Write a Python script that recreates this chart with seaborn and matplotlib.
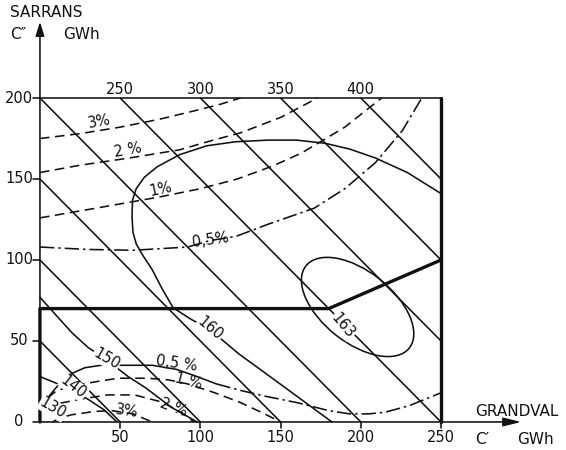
import matplotlib
matplotlib.use("Agg")
import matplotlib.pyplot as plt
from matplotlib.patches import Ellipse
import seaborn as sns

# ---------------------------------------------------------------------------
# Data (GWh): C' = Grandval storage, C'' = Sarrans storage
# ---------------------------------------------------------------------------
x_ticks = [50, 100, 150, 200, 250]
y_ticks = [0, 50, 100, 150, 200]

# straight iso-lines of total storage C' + C''
total_capacity = [50, 100, 150, 200, 250, 300, 350, 400]
total_labels = [250, 300, 350, 400]

# mean production contours
prod_130_x = [0, 7, 14]
prod_130_y = [11.5, 6.5, 0]
prod_140_x = [0, 10, 20, 30, 40, 48]
prod_140_y = [28, 24, 19.5, 14, 7.5, 0]
prod_150_x = [0, 10, 20, 30, 42, 55, 66, 82, 98]
prod_150_y = [77, 66, 55, 46, 38, 28, 21, 9, 0]
prod_160_x = [250, 229, 209, 193, 178, 160, 142, 122, 104, 87, 73, 65, 60, 57.7,
              57.4, 58, 60, 64, 70, 76, 83, 94, 106, 124, 140, 160, 182]
prod_160_y = [141, 154, 163, 168.5, 172, 174, 174, 173, 170.5, 165, 157.5, 151, 144, 137,
              126.5, 117, 110, 103, 94, 82.5, 70.5, 63.5, 57, 42, 30.5, 16, 0]
# 163 GWh optimum: centre, full width / height, tilt (deg)
prod_163_center = (198, 71)
prod_163_size = (82, 44)
prod_163_angle = -38

# failure-risk curves, upper family
risk3_up_x = [0, 25, 50, 75, 98, 112, 125]
risk3_up_y = [175, 178, 182, 187, 192.5, 196, 200]
risk2_up_x = [0, 25, 56, 87, 108, 125, 150, 173]
risk2_up_y = [154, 158.5, 163, 168, 174, 178.5, 188, 200]
risk1_up_x = [0, 35, 75, 100, 123, 145, 163, 190, 213]
risk1_up_y = [126, 132, 139, 144, 150, 158, 166, 182, 200]
risk05_up_x = [0, 30, 58, 92, 106, 122, 142, 171, 190, 209, 226, 238]
risk05_up_y = [108, 106.5, 106, 108, 112, 114.5, 122, 132, 144, 160, 180, 200]

# failure-risk curves, lower family (0.5 % drawn solid on its left part)
risk05_lo_solid_x = [1, 5, 9, 14, 20, 28, 38, 50, 70, 85, 98, 110]
risk05_lo_solid_y = [9, 15, 20, 25.5, 30, 33.5, 35, 35, 35, 32.5, 28, 23.5]
risk05_lo_dash_x = [110, 125, 140, 160, 180, 193, 205, 215, 230, 250]
risk05_lo_dash_y = [23.5, 19.5, 16, 12, 7, 5, 5, 6, 10, 18]
risk1_lo_x = [5, 10, 17.5, 34, 48.6, 67, 80, 92, 109, 125, 140, 150]
risk1_lo_y = [15, 19, 21.6, 24.7, 27, 27, 26, 23.5, 18, 12, 5, 0]
risk2_lo_x = [4, 12, 28, 42, 59, 76, 88, 96]
risk2_lo_y = [8, 11.5, 14.5, 16.7, 16.7, 12.3, 6, 0]
risk3_lo_x = [8, 12, 20, 34, 45, 58, 70]
risk3_lo_y = [0, 2.5, 4.5, 6.5, 7, 5, 0]

# admissible region boundary (thick)
bound_x = [0, 0, 180, 250]
bound_y = [0, 70, 70, 100]

# ---------------------------------------------------------------------------
sns.set_theme(style="white")
plt.rcParams["font.family"] = ["DejaVu Sans"]

fig = plt.figure(figsize=(5.66, 4.5), dpi=100)
ax = fig.add_axes([0, 0, 1, 1])
ax.set_xlim(-24.9, 327.9)
ax.set_ylim(-17.3, 260.5)
ax.set_axis_off()

INK = "#111111"
THIN = 1.15
THICK = 2.4
DASH = (0, (6, 3.5))
DASHDOT = (0, (9, 2.5, 1.5, 2.5))


def curve(xs, ys, lw=THIN, ls="-"):
    sns.lineplot(x=xs, y=ys, sort=False, estimator=None, color=INK,
                 lw=lw, linestyle=ls, ax=ax, legend=False)


# axes with arrows
ax.annotate("", xy=(0, 247), xytext=(0, 0),
            arrowprops=dict(arrowstyle="-|>,head_length=0.7,head_width=0.22",
                            color=INK, lw=THIN, shrinkA=0, shrinkB=0))
ax.annotate("", xy=(300, 0), xytext=(0, 0),
            arrowprops=dict(arrowstyle="-|>,head_length=0.9,head_width=0.22",
                            color=INK, lw=THIN, shrinkA=0, shrinkB=0))
for t in y_ticks:
    curve([-4.5, 0], [t, t])
for t in x_ticks:
    curve([t, t], [0, -3.5])

# frame: top line and thick right border
curve([0, 250], [200, 200])
curve([250, 250], [0, 200], lw=THICK)
curve(bound_x, bound_y, lw=THICK)

# iso-lines of total storage, clipped to the 250 x 200 frame
for c in total_capacity:
    x0 = max(0, c - 200)
    x1 = min(250, c)
    curve([x0, x1], [c - x0, c - x1])

# production contours
curve(prod_130_x, prod_130_y)
curve(prod_140_x, prod_140_y)
curve(prod_150_x, prod_150_y)
curve(prod_160_x, prod_160_y)
ax.add_patch(Ellipse(prod_163_center, prod_163_size[0], prod_163_size[1],
                     angle=prod_163_angle, fill=False, ec=INK, lw=THIN))

# risk curves
curve(risk3_up_x, risk3_up_y, ls=DASH)
curve(risk2_up_x, risk2_up_y, ls=DASH)
curve(risk1_up_x, risk1_up_y, ls=DASH)
curve(risk05_up_x, risk05_up_y, ls=DASHDOT)
curve(risk05_lo_solid_x, risk05_lo_solid_y)
curve(risk05_lo_dash_x, risk05_lo_dash_y, ls=DASHDOT)
curve(risk1_lo_x, risk1_lo_y, ls=DASH)
curve(risk2_lo_x, risk2_lo_y, ls=DASH)
curve(risk3_lo_x, risk3_lo_y, ls=DASH)

# ---------------------------------------------------------------------------
# text
FS = 10.5
txt = dict(color=INK, fontsize=FS, ha="center", va="center", rotation_mode="anchor")

for t in y_ticks:
    ax.text(-13, t, str(t), **txt)
for t in x_ticks:
    ax.text(t, -9.5, str(t), **txt)
for c in total_labels:
    ax.text(c - 200, 205.5, str(c), **txt)

pct = [("3%", 37, 185.5, 10), ("2 %", 55, 167.5, 10), ("1%", 75.5, 144, 12),
       ("0,5%", 106.5, 112.5, 8), ("0,5 %", 85, 36, -8), ("1 %", 92.5, 25, -15),
       ("2 %", 83.5, 9, -20), ("3%", 54, 6.5, -8)]
for s, x, y, r in pct:
    ax.text(x, y, s, rotation=r, **txt)

prod_labels = [("130", 8, 8.5, -30), ("140", 21, 21.5, -38), ("150", 41.5, 39, -30),
               ("160", 106, 57.5, -40), ("163", 189, 59.5, -50)]
for s, x, y, r in prod_labels:
    ax.text(x, y, s, rotation=r,
            bbox=dict(boxstyle="square,pad=0.05", fc="white", ec="none"), **txt)

AX_FS = 11
ax.text(-18.7, 252.5, "SARRANS", color=INK, fontsize=AX_FS, ha="left", va="center")
ax.text(-18.7, 239, "C\u2033", color=INK, fontsize=AX_FS, ha="left", va="center")
ax.text(14.3, 239, "GWh", color=INK, fontsize=AX_FS, ha="left", va="center")
ax.text(271, 6.5, "GRANDVAL", color=INK, fontsize=AX_FS, ha="left", va="center")
ax.text(271, -11, "C\u2032", color=INK, fontsize=AX_FS, ha="left", va="center")
ax.text(297.5, -11, "GWh", color=INK, fontsize=AX_FS, ha="left", va="center")

fig.savefig("out.png", dpi=100, facecolor="white")
